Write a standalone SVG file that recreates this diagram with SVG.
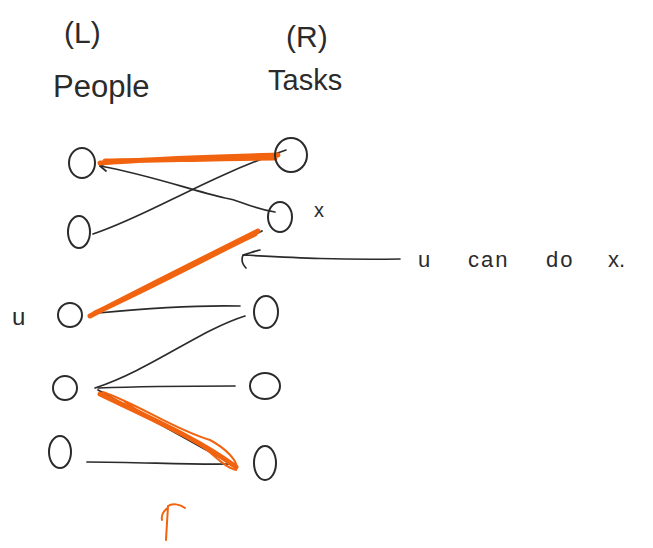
<svg xmlns="http://www.w3.org/2000/svg" width="653" height="548" viewBox="0 0 653 548">
<style>
.n{fill:none;stroke:#2b2b2b;stroke-width:2}
.e{fill:none;stroke:#2b2b2b;stroke-width:1.7;stroke-linecap:round}
.o{fill:none;stroke:#f2630f;stroke-width:5;stroke-linecap:round;stroke-linejoin:round}
.o2{fill:none;stroke:#f2630f;stroke-width:2;stroke-linecap:round}
.t{font-family:"Liberation Sans",Arial,sans-serif;fill:#2b2b2b;font-weight:normal}
</style>
<rect width="653" height="548" fill="#ffffff"/>
<g id="labels">
<text class="t" x="64" y="43" font-size="30">(L)</text>
<text class="t" x="53" y="97" font-size="31">People</text>
<text class="t" x="286" y="47" font-size="30">(R)</text>
<text class="t" x="268" y="90" font-size="29">Tasks</text>
</g>
<g id="connectors">
<path class="e" d="M275,212 C250,208 240,200 225,198 C190,190 150,175 100,166"/>
<path class="e" d="M100,166 l8,-3 M100,166 l6,5"/>
<path class="e" d="M93,234 C150,215 200,180 286,150"/>
<path class="e" d="M163,280 L262,231"/>
<path class="e" d="M98,313 C150,308 200,305 240,306"/>
<path class="e" d="M95,388 C150,370 200,330 245,316"/>
<path class="e" d="M98,388 C150,386 200,386 235,386"/>
<path class="e" d="M98,390 L228,462"/>
<path class="e" d="M87,462 C140,462 190,465 232,464"/>
<path class="e" d="M400,259 C340,260 300,258 243,255 M243,255 C250,253 255,251 260,250 M243,255 C241,260 243,265 246,268"/>
<path class="o" d="M100,163 C160,158 220,157 278,155 M105,161 C170,160 230,158 275,158"/>
<path class="o" d="M90,316 C150,285 210,255 258,231 M95,313 C160,283 215,253 255,234"/>
<path class="o" d="M100,394 C150,418 200,440 236,467"/>
<path class="o2" d="M103,392 C140,405 175,430 210,440 C225,448 240,462 236,470 C225,468 215,455 200,445 C180,432 150,420 125,402"/>
<path class="o2" d="M166,540 L168,506 C172,503 180,504 185,508 M168,508 C164,510 161,515 162,520"/>
</g>
<g id="L1"><ellipse class="n" cx="82" cy="163" rx="13" ry="15"/></g>
<g id="L2"><ellipse class="n" cx="79" cy="232" rx="11" ry="16"/></g>
<g id="L3"><ellipse class="n" cx="70" cy="315" rx="12" ry="12"/></g>
<g id="L4"><ellipse class="n" cx="65" cy="388" rx="12" ry="12"/></g>
<g id="L5"><ellipse class="n" cx="60" cy="452" rx="11" ry="16"/></g>
<g id="R1"><ellipse class="n" cx="291" cy="155" rx="16" ry="17"/></g>
<g id="R2"><ellipse class="n" cx="280" cy="217" rx="12" ry="15"/></g>
<g id="R3"><ellipse class="n" cx="266" cy="312" rx="12" ry="16"/></g>
<g id="R4"><ellipse class="n" cx="265" cy="386" rx="15" ry="13"/></g>
<g id="R5"><ellipse class="n" cx="265" cy="463" rx="11" ry="17"/></g>
<g id="notes">
<text class="t" x="12" y="325" font-size="24">u</text>
<text class="t" x="314" y="217" font-size="20">x</text>
<text class="t" font-size="22" y="267"><tspan x="418">u</tspan><tspan x="468" letter-spacing="2">can</tspan><tspan x="546" letter-spacing="2">do</tspan><tspan x="608">x.</tspan></text>
</g>
</svg>
